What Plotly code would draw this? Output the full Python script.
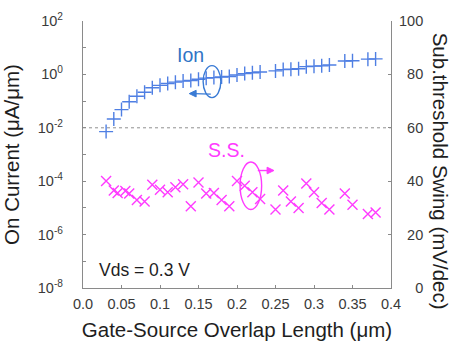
import plotly.graph_objects as go

# ---------------- data ----------------
overlap_ion = [0.03, 0.04, 0.05, 0.06, 0.07, 0.08, 0.09, 0.10, 0.11, 0.12, 0.13,
               0.14, 0.15, 0.16, 0.17, 0.18, 0.19, 0.20, 0.21, 0.22, 0.23,
               0.25, 0.26, 0.27, 0.28, 0.29, 0.30, 0.31, 0.32,
               0.34, 0.35, 0.37, 0.38]
ion_current = [0.0072, 0.0214, 0.048, 0.095, 0.151, 0.214, 0.316, 0.389, 0.457, 0.513, 0.562,
               0.589, 0.661, 0.724, 0.759, 0.794, 0.832, 0.955, 1.07, 1.15, 1.23,
               1.35, 1.51, 1.55, 1.62, 1.95, 2.04, 2.09, 2.24,
               3.16, 3.24, 3.72, 3.80]

overlap_ss = [0.03, 0.04, 0.045, 0.055, 0.06, 0.07, 0.08, 0.09, 0.10, 0.11, 0.12, 0.13,
              0.14, 0.15, 0.16, 0.17, 0.18, 0.19, 0.20, 0.21, 0.22, 0.23,
              0.25, 0.26, 0.27, 0.28, 0.29, 0.30, 0.31, 0.32,
              0.34, 0.35, 0.37, 0.38]
ss_swing = [40.1, 36.5, 35.6, 36.3, 35.4, 33.0, 32.4, 38.7, 36.8, 35.9, 37.7, 38.9,
            30.6, 39.5, 35.4, 35.6, 33.0, 30.6, 40.1, 38.3, 35.9, 33.3,
            29.4, 36.5, 32.4, 30.0, 39.1, 35.9, 31.8, 29.4,
            35.4, 31.2, 27.7, 28.3]

x_ticks = [0.0, 0.05, 0.1, 0.15, 0.2, 0.25, 0.3, 0.35, 0.4]
x_tick_labels = ["0.0", "0.05", "0.1", "0.15", "0.2", "0.25", "0.3", "0.35", "0.4"]

left_major_exponents = [-8, -6, -4, -2, 0, 2]
left_minor_exponents = [-7, -5, -3, -1, 1]
left_tick_vals = [10.0 ** e for e in left_major_exponents]
left_minor_vals = [10.0 ** e for e in left_minor_exponents]
left_tick_labels = ["10<sup>%d</sup>" % e for e in left_major_exponents]

right_ticks = [0, 20, 40, 60, 80, 100]
right_tick_labels = ["\u2007\u20070", "\u200720", "\u200740", "\u200760", "\u200780", "100"]

threshold_swing = 60  # dashed reference line (= 10^-2 on left axis)

# ---------------- style ----------------
ION_COLOR = "#4F7FE3"
ION_TEXT = "#2F74C6"
ION_LOOP = "#3A7BD5"
SS_COLOR = "#FF3BFF"
AXIS_COLOR = "#8A8A8A"
FONT_FAMILY = "Liberation Sans, Arial, sans-serif"
TICK_FONT = dict(family=FONT_FAMILY, size=14.5, color="#3A3A3A")
TITLE_FONT = dict(family=FONT_FAMILY, size=20.5, color="#1E1E1E")

# pixel scale of the data axes (for arrowheads drawn as shapes)
PX_PER_X = 314 / 0.4
PX_PER_Y2 = 282 / 100.0


def arrow_head(tip_x, tip_y, direction, color, length=7, half_width=3.5):
    dx = length / PX_PER_X * (-1 if direction == "right" else 1)
    dy = half_width / PX_PER_Y2
    path = "M %f,%f L %f,%f L %f,%f Z" % (tip_x, tip_y, tip_x + dx, tip_y + dy, tip_x + dx, tip_y - dy)
    return dict(type="path", xref="x", yref="y2", path=path,
                fillcolor=color, line=dict(color=color, width=1))


fig = go.Figure()
fig.add_trace(go.Scatter(
    x=overlap_ion, y=ion_current, mode="markers", name="Ion", yaxis="y",
    marker=dict(symbol="cross-thin", size=10, color=ION_COLOR,
                line=dict(width=1.4, color=ION_COLOR)),
))
fig.add_trace(go.Scatter(
    x=overlap_ss, y=ss_swing, mode="markers", name="S.S.", yaxis="y2",
    marker=dict(symbol="x-thin", size=10, color=SS_COLOR,
                line=dict(width=1.4, color=SS_COLOR)),
))

fig.update_layout(
    width=453, height=349,
    margin=dict(l=77, r=62, t=11, b=56),
    paper_bgcolor="white", plot_bgcolor="white",
    showlegend=False,
    xaxis=dict(
        range=[0, 0.4], tickvals=x_ticks, ticktext=x_tick_labels,
        ticks="inside", ticklen=3, tickcolor=AXIS_COLOR,
        showline=True, linecolor=AXIS_COLOR, linewidth=1.3, mirror=False,
        showgrid=False, zeroline=False, tickfont=TICK_FONT, ticklabelstandoff=2,
        title=dict(text="Gate-Source Overlap Length (μm)", font=TITLE_FONT, standoff=12),
    ),
    yaxis=dict(
        type="log", range=[-8, 2], tickvals=left_tick_vals, ticktext=left_tick_labels,
        ticks="inside", ticklen=3, tickcolor=AXIS_COLOR,
        minor=dict(tickvals=left_minor_vals, ticks="inside", ticklen=3, tickcolor=AXIS_COLOR),
        showline=True, linecolor=AXIS_COLOR, linewidth=1.3,
        showgrid=False, zeroline=False, tickfont=TICK_FONT, ticklabelstandoff=16,
        title=dict(text="On Current (μA/μm)", font=TITLE_FONT, standoff=12),
    ),
    yaxis2=dict(
        overlaying="y", side="right", range=[0, 100],
        tickvals=right_ticks, ticktext=right_tick_labels,
        ticks="inside", ticklen=3, tickcolor=AXIS_COLOR,
        showline=True, linecolor=AXIS_COLOR, linewidth=1.3,
        showgrid=False, zeroline=False, tickfont=TICK_FONT, ticklabelstandoff=4,
    ),
    shapes=[
        dict(type="line", xref="paper", yref="y2", x0=0, x1=1,
             y0=threshold_swing, y1=threshold_swing,
             line=dict(color="#8F8F8F", width=1, dash="dot")),
        # Ion loop + arrow pointing to the left axis
        dict(type="circle", xref="x", yref="y2", x0=0.156, x1=0.179, y0=71.3, y1=83.3,
             line=dict(color=ION_LOOP, width=1.4)),
        dict(type="line", xref="x", yref="y2", x0=0.166, y0=72.6, x1=0.144, y1=72.8,
             line=dict(color=ION_LOOP, width=1.4)),
        arrow_head(0.138, 72.8, "left", ION_LOOP),
        # S.S. loop + arrow pointing to the right axis
        dict(type="circle", xref="x", yref="y2", x0=0.204, x1=0.232, y0=29.4, y1=47.2,
             line=dict(color=SS_COLOR, width=1.4)),
        dict(type="line", xref="x", yref="y2", x0=0.227, y0=44.0, x1=0.242, y1=44.0,
             line=dict(color=SS_COLOR, width=1.4)),
        arrow_head(0.248, 44.0, "right", SS_COLOR),
    ],
    annotations=[
        dict(text="Sub.threshold Swing (mV/dec)", textangle=90, xref="paper", yref="paper",
             x=1.162, y=0.436, showarrow=False, font=TITLE_FONT,
             xanchor="center", yanchor="middle"),
        dict(text="Ion", xref="x", yref="y2", x=0.140, y=87.1, showarrow=False,
             font=dict(family=FONT_FAMILY, size=19.5, color=ION_TEXT)),
        dict(text="S.S.", xref="x", yref="y2", x=0.187, y=51.6, showarrow=False,
             font=dict(family=FONT_FAMILY, size=19.5, color=SS_COLOR)),
        dict(text="Vds = 0.3 V", xref="x", yref="y2", x=0.018, y=6.9, showarrow=False,
             xanchor="left", font=dict(family=FONT_FAMILY, size=17.5, color="#1E1E1E")),
    ],
)

fig.write_html("out.html")
